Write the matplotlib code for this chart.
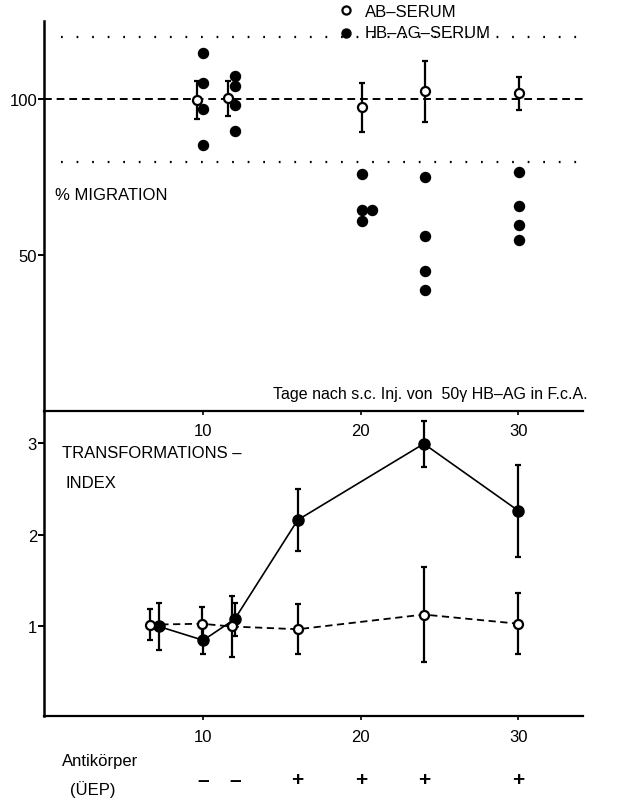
import numpy as np
import matplotlib.pyplot as plt
from matplotlib.transforms import blended_transform_factory

plt.rcParams['font.family'] = ['Liberation Sans', 'DejaVu Sans']

# -----------------------------
# Upper panel: % migration
mig_ab_days = [9.6, 11.6, 20.1, 24.1, 30.05]
mig_ab_mean = [99.8, 100.3, 97.4, 102.6, 101.9]
mig_ab_err = [6.0, 5.5, 7.9, 9.8, 5.3]

mig_hb_days = [10.0, 10.0, 10.0, 10.0,
               12.0, 12.0, 12.0, 12.0,
               20.1, 20.1, 20.7, 20.1,
               24.1, 24.1, 24.1, 24.1,
               30.05, 30.05, 30.05, 30.05]
mig_hb_vals = [114.8, 105.1, 96.8, 85.2,
               107.4, 104.2, 98.1, 89.7,
               75.9, 64.4, 64.4, 60.8,
               75.0, 56.0, 44.8, 38.7,
               76.6, 65.6, 59.5, 54.7]

mig_ref = 100
mig_band = [80, 120]

# -----------------------------
# Lower panel: transformation index
ti_ab_days = [6.6, 9.9, 11.8, 16.0, 24.0, 30.0]
ti_ab_mean = [1.02, 1.03, 1.00, 0.97, 1.13, 1.03]
ti_ab_err = [0.17, 0.18, 0.33, 0.27, 0.52, 0.33]

ti_hb_days = [7.2, 10.0, 12.0, 16.0, 24.0, 30.0]
ti_hb_mean = [1.00, 0.85, 1.08, 2.16, 2.99, 2.26]
ti_hb_err = [0.26, 0.15, 0.18, 0.34, 0.25, 0.50]

# antibody (UEP) result per day
ab_days = [10, 12, 16, 20, 24, 30]
ab_signs = ['\u2013', '\u2013', '+', '+', '+', '+']

x_ticks = [10, 20, 30]

# -----------------------------
fig = plt.figure(figsize=(6.17, 8.03), dpi=100)
ax1 = fig.add_axes([0.0713, 0.4873, 0.8736, 0.4847])
ax2 = fig.add_axes([0.0713, 0.1065, 0.8736, 0.3808])
ax2.patch.set_visible(False)

# upper panel
ax1.axhline(mig_ref, color='black', lw=1.4, linestyle=(0, (4, 2.5)), zorder=1)
ax1.hlines(mig_band, 1.0, 34.1, color='black', lw=1.6, linestyle=(0, (0.8, 6.2)), zorder=1)
ax1.errorbar(mig_ab_days, mig_ab_mean, yerr=mig_ab_err, fmt='none', ecolor='black',
             elinewidth=1.6, capsize=2.2, capthick=1.6, zorder=2)
ab_handle, = ax1.plot(mig_ab_days, mig_ab_mean, 'o', ms=6.5, mfc='white', mec='black',
                      mew=1.6, zorder=3, label='AB\u2013SERUM')
hb_handle = ax1.scatter(mig_hb_days, mig_hb_vals, s=52, color='black', zorder=3,
                        label='HB\u2013AG\u2013SERUM')

ax1.set_xlim(-0.1, 34.1)
ax1.set_ylim(0, 125)
ax1.set_yticks([50, 100])
ax1.set_xticks(x_ticks)
ax1.tick_params(axis='y', direction='out', length=4, width=1.4, pad=1, labelsize=12)
ax1.tick_params(axis='x', direction='out', length=3, width=1.2, pad=6, labelsize=12)
for s in ['top', 'right']:
    ax1.spines[s].set_visible(False)
ax1.spines['left'].set_linewidth(1.8)
ax1.spines['bottom'].set_linewidth(1.6)

ax1.text(0.6, 69.5, '% MIGRATION', fontsize=12, va='center', ha='left')
ax1.text(14.4, 5.5, 'Tage nach s.c. Inj. von  50\u03b3 HB\u2013AG in F.c.A.',
         fontsize=11.5, va='center', ha='left')

fig.legend(handles=[ab_handle, hb_handle], loc='upper left',
           bbox_to_anchor=(0.548, 0.9935), frameon=False, fontsize=12,
           borderpad=0, borderaxespad=0, handlelength=1.0, handletextpad=0.6,
           labelspacing=0.35, markerscale=0.9)

# lower panel
ax2.errorbar(ti_ab_days, ti_ab_mean, yerr=ti_ab_err, fmt='none', ecolor='black',
             elinewidth=1.6, capsize=2.2, capthick=1.6, zorder=2)
ax2.errorbar(ti_hb_days, ti_hb_mean, yerr=ti_hb_err, fmt='none', ecolor='black',
             elinewidth=1.6, capsize=2.2, capthick=1.6, zorder=2)
ax2.plot(ti_hb_days, ti_hb_mean, '-', color='black', lw=1.2, zorder=3,
         marker='o', ms=8, mfc='black', mec='black')
ax2.plot(ti_ab_days, ti_ab_mean, color='black', lw=1.3, linestyle=(0, (4, 2.5)), zorder=4,
         marker='o', ms=6.5, mfc='white', mec='black', mew=1.6)

ax2.set_xlim(-0.1, 34.1)
ax2.set_ylim(0.02, 3.35)
ax2.set_yticks([1, 2, 3])
ax2.set_xticks(x_ticks)
ax2.tick_params(axis='y', direction='out', length=4, width=1.4, pad=1, labelsize=12)
ax2.tick_params(axis='x', direction='out', length=3, width=1.2, pad=6, labelsize=12)
for s in ['top', 'right']:
    ax2.spines[s].set_visible(False)
ax2.spines['left'].set_linewidth(1.8)
ax2.spines['bottom'].set_linewidth(1.6)

ax2.text(1.05, 2.89, 'TRANSFORMATIONS \u2013', fontsize=12, va='center', ha='left')
ax2.text(1.25, 2.57, 'INDEX', fontsize=12, va='center', ha='left')

# antibody row under the chart
fig.text(0.1005, 0.0523, 'Antik\u00f6rper', fontsize=12, va='center', ha='left')
fig.text(0.1135, 0.0162, '(\u00dcEP)', fontsize=12, va='center', ha='left')
trans = blended_transform_factory(ax2.transData, fig.transFigure)
for d, sgn in zip(ab_days, ab_signs):
    ax2.text(d, 0.0274, sgn, transform=trans, fontsize=15, fontweight='bold',
             ha='center', va='center')

fig.savefig('out.png', dpi=100)
